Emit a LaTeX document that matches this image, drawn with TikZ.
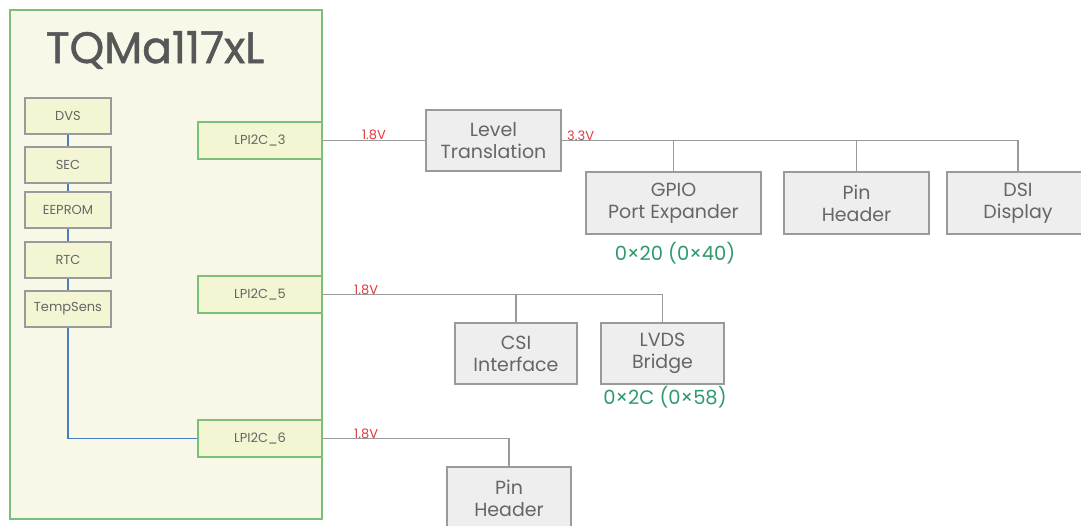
\documentclass[tikz,border=0pt]{standalone}
\usepackage{fontspec}
\setmainfont{Poppins}
\newfontfamily\titlefont[FakeBold=1.2]{Poppins}
\usetikzlibrary{positioning}

\definecolor{modfill}{HTML}{F7F8E8}
\definecolor{modline}{HTML}{7CBF78}
\definecolor{chipfill}{HTML}{F4F5D2}
\definecolor{greyfill}{HTML}{EEEEEE}
\definecolor{greyline}{HTML}{9A9A9A}
\definecolor{txtgrey}{HTML}{666666}
\definecolor{busblue}{HTML}{4A7CC4}
\definecolor{voltred}{HTML}{E0393E}
\definecolor{addrgreen}{HTML}{2E9A6C}

\tikzset{
  chip/.style={rectangle, draw=greyline, fill=chipfill, line width=1.2pt, minimum width=86pt, minimum height=36pt, inner sep=0pt, text=txtgrey, font=\fontsize{13}{15}\selectfont},
  port/.style={chip, draw=modline, minimum width=124pt, minimum height=37pt},
  dev/.style={rectangle, draw=greyline, fill=greyfill, line width=1.2pt, inner sep=0pt, text=txtgrey, align=center, font=\fontsize{19}{22}\selectfont},
  bus/.style={draw=greyline, line width=1.4pt},
  sbus/.style={draw=busblue, line width=1.2pt},
  volt/.style={text=voltred, font=\fontsize{13}{15}\selectfont, inner sep=1pt},
  addr/.style={text=addrgreen, font=\fontsize{19.5}{22}\selectfont}
}

\begin{document}
\begin{tikzpicture}[x=1pt, y=-1pt]
   \useasboundingbox (0,0) rectangle (1081,525);
   % module
   \node[rectangle, draw=modline, fill=modfill, line width=1.4pt, minimum width=312pt, minimum height=509pt, inner sep=0pt] (module) at (166,264.5) {};
   \node[text=txtgrey!85!black, font=\titlefont\fontsize{44}{46}\selectfont] (title) at (155,50) {TQMa117xL};

   % on-module devices
   \node[chip] (dvs) at (68,116) {DVS};
   \node[chip] (sec) at (68,165) {SEC};
   \node[chip] (eeprom) at (68,210) {EEPROM};
   \node[chip] (rtc) at (68,260) {RTC};
   \node[chip] (temp) at (68,309) {TempSens};

   \node[port] (lpi3) at (260,140.5) {LPI2C\_3};
   \node[port] (lpi5) at (260,294.5) {LPI2C\_5};
   \node[port] (lpi6) at (260,438.5) {LPI2C\_6};

   % carrier devices
   \node[dev, minimum width=135pt, minimum height=61pt] (lvl) at (493.5,140.5) {Level\\Translation};
   \node[dev, minimum width=175pt, minimum height=62pt] (gpio) at (673.5,203) {GPIO\\Port Expander};
   \node[dev, minimum width=145pt, minimum height=62pt] (pinh) at (856.5,203) {Pin\\Header};
   \node[dev, minimum width=142pt, minimum height=62pt] (dsi) at (1018,203) {DSI\\Display};
   \node[dev, minimum width=122pt, minimum height=61pt] (csi) at (516,353.5) {CSI\\Interface};
   \node[dev, minimum width=123pt, minimum height=61pt] (lvds) at (662.5,353.5) {LVDS\\Bridge};
   \node[dev, minimum width=124pt, minimum height=62pt] (pinh6) at (509,498) {Pin\\Header};

   \node[addr] (gpioaddr) at (675,253) {0×20 (0×40)};
   \node[addr] (lvdsaddr) at (665,397) {0×2C (0×58)};

   % internal bus
   \draw[sbus] (dvs) -- (sec) -- (eeprom) -- (rtc) -- (temp);
   \draw[sbus] (temp.south) |- (lpi6.west);

   % LPI2C_3
   \draw[bus] (lpi3.east) -- node[volt, pos=0.5, above=-1pt] {1.8V} (lvl.west);
   \draw[bus] (lvl.east) -| (dsi.north);
   \node[volt, anchor=south west] (v33) at (566,142) {3.3V};
   \draw[bus] (gpio.north) -- (gpio.north |- lvl.east);
   \draw[bus] (pinh.north) -- (pinh.north |- lvl.east);

   % LPI2C_5
   \draw[bus] (lpi5.east) -| (lvds.north);
   \node[volt, anchor=south west] (v5) at (353,296) {1.8V};
   \draw[bus] (csi.north) -- (csi.north |- lpi5.east);

   % LPI2C_6
   \draw[bus] (lpi6.east) -| (pinh6.north);
   \node[volt, anchor=south west] (v6) at (353,440) {1.8V};
\end{tikzpicture}
\end{document}
